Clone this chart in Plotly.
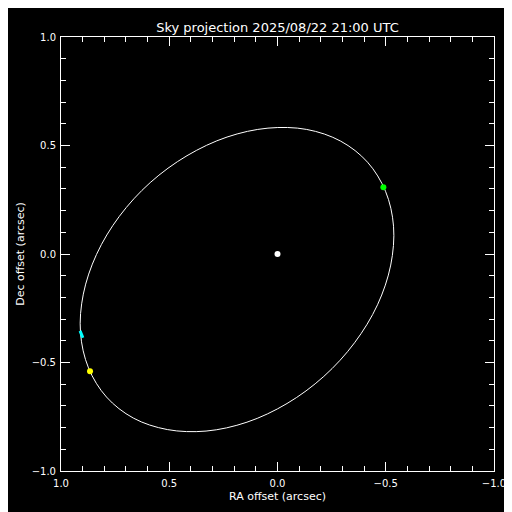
import plotly.graph_objects as go

title_text = "Sky projection 2025/08/22 21:00 UTC"
x_title = "RA offset (arcsec)"
y_title = "Dec offset (arcsec)"

# Apparent orbit (RA offset, Dec offset in arcsec)
orbit_ra = [-0.416, -0.499, -0.536, -0.523, -0.462, -0.356, -0.214, -0.044, 0.141, 0.330,
            0.509, 0.666, 0.790, 0.873, 0.910, 0.897, 0.836, 0.731, 0.588, 0.418,
            0.233, 0.044, -0.135, -0.292, -0.416]
orbit_dec = [0.423, 0.289, 0.128, -0.051, -0.234, -0.409, -0.564, -0.689, -0.775, -0.816,
             -0.809, -0.756, -0.659, -0.525, -0.363, -0.185, -0.002, 0.173, 0.329, 0.453,
             0.539, 0.580, 0.574, 0.520, 0.423]

primary_ra = [0.0]
primary_dec = [0.0]
green_ra = [-0.489]
green_dec = [0.308]
yellow_ra = [0.866]
yellow_dec = [-0.540]
cyan_ra = [0.912, 0.899]
cyan_dec = [-0.354, -0.386]

fig = go.Figure()
fig.add_trace(go.Scatter(x=orbit_ra, y=orbit_dec, mode="lines",
                         line=dict(color="white", width=1, shape="spline", smoothing=1.0),
                         hoverinfo="skip"))
fig.add_trace(go.Scatter(x=cyan_ra, y=cyan_dec, mode="lines",
                         line=dict(color="#00ffff", width=3)))
fig.add_trace(go.Scatter(x=yellow_ra, y=yellow_dec, mode="markers",
                         marker=dict(color="#ffff00", size=6, symbol="circle")))
fig.add_trace(go.Scatter(x=green_ra, y=green_dec, mode="markers",
                         marker=dict(color="#00ff00", size=6, symbol="circle")))
fig.add_trace(go.Scatter(x=primary_ra, y=primary_dec, mode="markers",
                         marker=dict(color="white", size=6, symbol="circle")))

axis_common = dict(
    showline=True, linecolor="white", linewidth=1, mirror="allticks",
    ticks="inside", ticklen=9, tickwidth=1, tickcolor="white",
    showgrid=False, zeroline=False, dtick=0.5, tickformat=".1f",
    automargin=False,
    tickfont=dict(family="DejaVu Sans", size=10, color="white"),
    minor=dict(dtick=0.1, ticks="inside", ticklen=5, tickwidth=1, tickcolor="white", showgrid=False),
)

W = 504
H = 504
fig.update_layout(
    width=W, height=H,
    margin=dict(l=53, r=18, t=29, b=41, autoexpand=False),
    paper_bgcolor="black", plot_bgcolor="black",
    showlegend=False,
    title=dict(text=title_text, x=(53 + 486) / 2 / W, xanchor="center",
               y=1 - 19 / H, yanchor="middle",
               font=dict(family="DejaVu Sans", size=13, color="white")),
    xaxis=dict(range=[1.0, -1.0], title=dict(text=x_title, standoff=4,
               font=dict(family="DejaVu Sans", size=11, color="white")),
               ticklabelstandoff=3, **axis_common),
    yaxis=dict(range=[-1.0, 1.0], title=dict(text=y_title, standoff=4,
               font=dict(family="DejaVu Sans", size=11, color="white")),
               ticklabelstandoff=2, **axis_common),
)

fig.write_html("out.html")
